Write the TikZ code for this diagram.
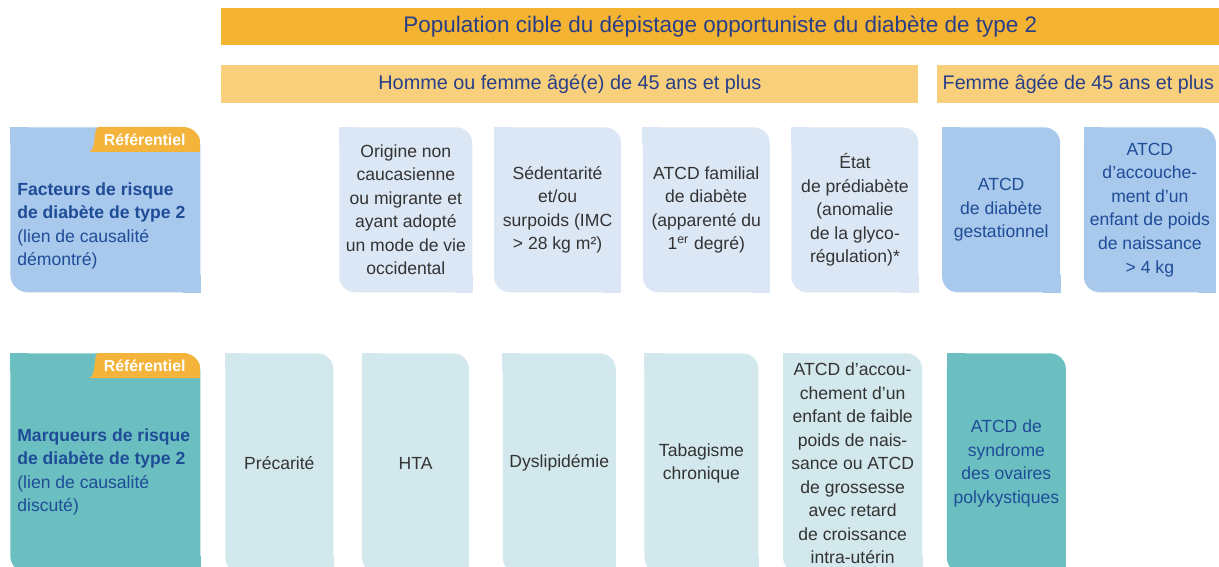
\documentclass[tikz,border=0pt]{standalone}
\usepackage{fontspec}
\setmainfont{Liberation Sans}
\usetikzlibrary{positioning, calc}
\definecolor{bandorange}{HTML}{F5B332}
\definecolor{bandlight}{HTML}{F8D07C}
\definecolor{taborange}{HTML}{F4B33A}
\definecolor{lblue}{HTML}{A8C8EC}
\definecolor{paleblue}{HTML}{DCE7F5}
\definecolor{teal}{HTML}{6BBFC1}
\definecolor{paleteal}{HTML}{D2E8EC}
\definecolor{navy}{HTML}{283F88}
\definecolor{labelblue}{HTML}{1F4C97}
\definecolor{txtgray}{HTML}{333333}
\pgfdeclarelayer{background}
\pgfsetlayers{background,main}
\newcommand{\bodyfont}{\fontsize{10}{13.4}\selectfont}
\tikzset{
    card/.style 2 args = {rectangle, rounded corners=9pt, anchor=north west, inner sep=0pt, align=center,
                          minimum width=#1*0.02cm, minimum height=#2*0.02cm, font=\bodyfont, text=txtgray},
    band/.style 2 args = {rectangle, anchor=north west, inner sep=0pt,
                          minimum width=#1*0.02cm, minimum height=#2*0.02cm, text=navy},
    tablabel/.style = {inner sep=0pt, font=\fontsize{9}{10}\selectfont\bfseries, text=white},
    rowlabel/.style = {anchor=west, inner sep=0pt, align=left, font=\bodyfont, text=labelblue}
}

\begin{document}
\begin{tikzpicture}[x=0.02cm, y=-0.02cm]
    \useasboundingbox (0,0) rectangle (1219,567);

    % bandeaux
    \node (pop) [band={998}{37}, fill=bandorange, font=\fontsize{12.8}{15}\selectfont] at (221,8)
        {Population cible du dépistage opportuniste du diabète de type 2};
    \node (hf) [band={697}{38}, fill=bandlight, font=\fontsize{11.3}{14}\selectfont] at (221,65)
        {Homme ou femme âgé(e) de 45 ans et plus};
    \node (fem) [band={282}{38}, fill=bandlight, font=\fontsize{11.2}{14}\selectfont] at (937,65)
        {Femme âgée de 45 ans et plus};

    % facteurs de risque
    \node (fr) [card={190}{165}, fill=lblue, rounded corners=10pt] at (10,127) {};
    \node (orig) [card={133}{165}, fill=paleblue] at (339,127)
        {Origine non\\caucasienne\\ou migrante et\\ayant adopté\\un mode de vie\\occidental};
    \node (sed) [card={127}{165}, fill=paleblue, right=0.42cm of orig]
        {Sédentarité\\et/ou\\surpoids (IMC\\> 28 kg m²)};
    \node (fam) [card={127}{165}, fill=paleblue, right=0.42cm of sed]
        {ATCD familial\\de diabète\\(apparenté du\\1\textsuperscript{er} degré)};
    \node (pred) [card={127}{165}, fill=paleblue, right=0.42cm of fam]
        {État\\de prédiabète\\(anomalie\\de la glyco-\\régulation)*};
    \node (gest) [card={118}{165}, fill=lblue, text=labelblue, right=0.46cm of pred]
        {ATCD\\de diabète\\gestationnel};
    \node (macro) [card={132}{165}, fill=lblue, text=labelblue, right=0.46cm of gest]
        {ATCD\\d’accouche-\\ment d’un\\enfant de poids\\de naissance\\> 4 kg};

    % marqueurs de risque
    \node (mr) [card={190}{220}, fill=teal, rounded corners=10pt] at (10,353) {};
    \node (prec) [card={108}{220}, fill=paleteal] at (225,353) {Précarité};
    \node (hta) [card={107}{220}, fill=paleteal, right=0.56cm of prec] {HTA};
    \node (dysl) [card={113}{220}, fill=paleteal, right=0.66cm of hta] {Dyslipidémie};
    \node (tabac) [card={114}{220}, fill=paleteal, right=0.56cm of dysl] {Tabagisme\\chronique};
    \node (hypo) [card={139}{220}, fill=paleteal, right=0.48cm of tabac]
        {ATCD d’accou-\\chement d’un\\enfant de faible\\poids de nais-\\sance ou ATCD\\de grossesse\\avec retard\\de croissance\\intra-utérin};
    \node (sopk) [card={119}{220}, fill=teal, text=labelblue, right=0.48cm of hypo]
        {ATCD de\\syndrome\\des ovaires\\polykystiques};

    % coins droits
    \begin{pgfonlayer}{background}
        \foreach \n/\c in {fr/lblue, orig/paleblue, sed/paleblue, fam/paleblue, pred/paleblue, gest/lblue, macro/lblue,
                           mr/teal, prec/paleteal, hta/paleteal, dysl/paleteal, tabac/paleteal, hypo/paleteal, sopk/teal} {
            \fill[\c] (\n.north west) rectangle ++(18,18);
            \fill[\c] (\n.south east) rectangle ++(-18,-18);
        }
    \end{pgfonlayer}

    % onglets
    \foreach \n in {fr, mr} {
        \begin{scope}
            \clip[rounded corners=10pt] (\n.north west) rectangle (\n.south east);
            \fill[taborange] ($(\n.north east)+(-112,25)$) .. controls +(8,0) and +(-6,0) .. ($(\n.north east)+(-102,0)$)
                -- (\n.north east) -- ++(0,25) -- cycle;
        \end{scope}
    }
    \node (frtab) [tablabel] at ($(fr.north east)+(-56,12.5)$) {Référentiel};
    \node (mrtab) [tablabel] at ($(mr.north east)+(-56,12.5)$) {Référentiel};

    \node (frtext) [rowlabel] at (17,226)
        {\textbf{Facteurs de risque}\\\textbf{de diabète de type 2}\\(lien de causalité\\démontré)};
    \node (mrtext) [rowlabel] at (17,472)
        {\textbf{Marqueurs de risque}\\\textbf{de diabète de type 2}\\(lien de causalité\\discuté)};
\end{tikzpicture}
\end{document}
